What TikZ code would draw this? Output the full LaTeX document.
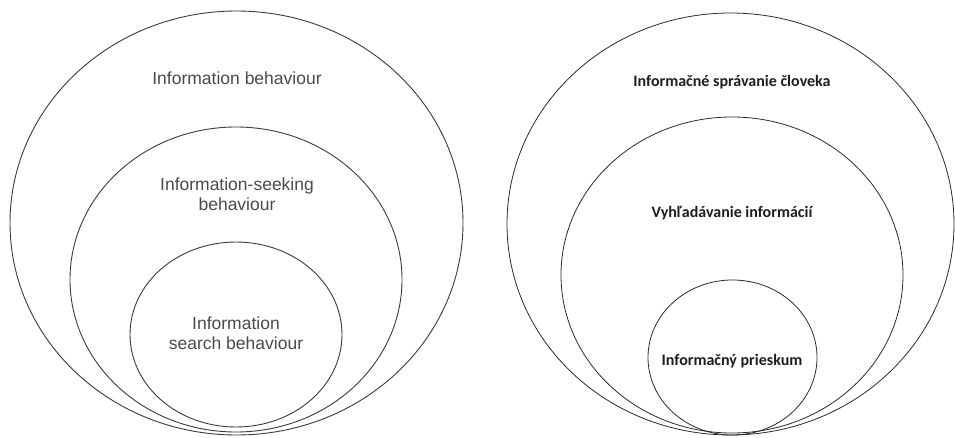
\documentclass[tikz,border=0pt]{standalone}
\usepackage{fontspec}
\setmainfont{Liberation Sans}
\newfontfamily\rightfont{Carlito}
\usetikzlibrary{shapes.geometric}
\definecolor{lgray}{HTML}{3A3A3A}
\definecolor{ltext}{HTML}{4A4A4A}
\definecolor{rline}{HTML}{2A2A2A}
\definecolor{rtext}{HTML}{1E1E1E}
\tikzset{
  lring/.style={draw=lgray, line width=0.9pt, ellipse, inner sep=0pt},
  rring/.style={draw=rline, line width=0.8pt, ellipse, inner sep=0pt},
  ltxt/.style={text=ltext, font=\fontsize{17.5}{19.5}\selectfont, align=center, inner sep=0pt},
  rtxt/.style={text=rtext, font=\rightfont\bfseries\fontsize{16}{18}\selectfont, align=center, inner sep=0pt}
}
\begin{document}
\begin{tikzpicture}[x=1pt,y=1pt]
\useasboundingbox (0,0) rectangle (955,437);
% left
\node[lring, minimum width=453pt, minimum height=424pt] (lo) at (236.5,214) {};
\node[lring, minimum width=332pt, minimum height=305pt] (lm) at (236,157.5) {};
\node[lring, minimum width=212pt, minimum height=185pt] (li) at (236,102.5) {};
\node[ltxt, anchor=base] (lt1) at (237,352) {Information behaviour};
\node[ltxt] (lt2) at (237,243) {Information-seeking\\behaviour};
\node[ltxt] (lt3) at (236,104) {Information\\search behaviour};
% right
\node[rring, minimum width=447pt, minimum height=422pt] (ro) at (730.5,213) {};
\node[rring, minimum width=342pt, minimum height=316pt] (rm) at (732,162) {};
\node[rring, minimum width=169pt, minimum height=155pt] (ri) at (732.5,79.5) {};
\node[rtxt, anchor=base] (rt1) at (732,350) {Informačné správanie človeka};
\node[rtxt, anchor=base] (rt2) at (732,220) {Vyhľadávanie informácií};
\node[rtxt, anchor=base] (rt3) at (732,72) {Informačný prieskum};
\end{tikzpicture}
\end{document}
